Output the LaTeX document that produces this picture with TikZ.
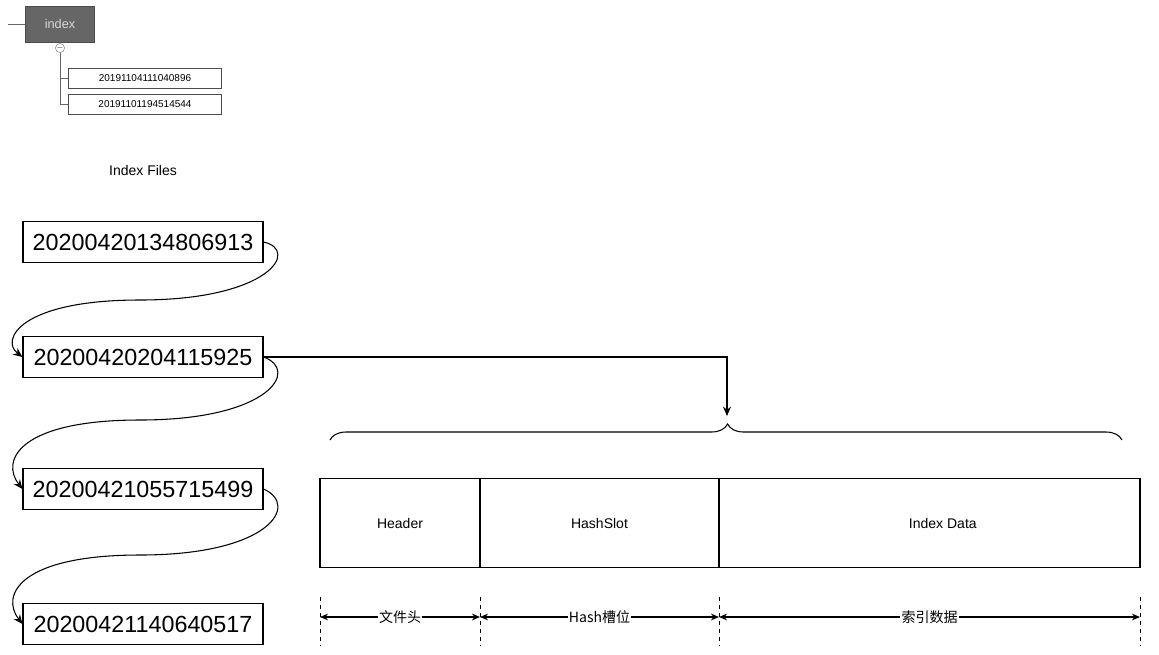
\documentclass[tikz,border=0pt]{standalone}
\usepackage{fontspec}
\setmainfont{Liberation Sans}
\newfontfamily\cjk{Noto Sans CJK SC}
\usetikzlibrary{arrows.meta,decorations.pathreplacing}
\begin{document}
\begin{tikzpicture}[x=0.75pt,y=-0.75pt,
  small/.style={draw=black!70,line width=0.6pt,minimum width=115pt,minimum height=15pt,inner sep=0,font=\fontsize{7.5}{8}\selectfont},
  big/.style={draw,line width=0.8pt,minimum width=180pt,minimum height=31pt,inner sep=0,font=\fontsize{17.5}{19}\selectfont},
  seg/.style={draw,line width=0.8pt,minimum height=67pt,inner sep=0,font=\fontsize{10.5}{12}\selectfont},
  arr/.style={-{Stealth[length=7pt,width=6pt]},line width=0.8pt},
  dim/.style={{Stealth[length=6pt,width=5pt]}-{Stealth[length=6pt,width=5pt]},line width=1pt},
  dsh/.style={dashed,line width=0.7pt},
  lab/.style={fill=white,inner sep=1pt,font=\cjk\fontsize{10.5}{12}\selectfont}]
\useasboundingbox (0,0) rectangle (1159,654);
% top tree
\node[fill=black!60,draw=black!70,minimum width=52pt,minimum height=27pt,text=black!15,font=\fontsize{9.5}{10}\selectfont] (idx) at (60,24) {index};
\coordinate (l0) at (8,24);
\draw[black!60] (l0) -- (idx.west);
\node[circle,draw=black!50,inner sep=0,minimum size=6pt,font=\fontsize{5}{5}\selectfont] (c) at (60,48) {$-$};
\draw[black!60] (idx.south) -- (c);
\node[small] (f1) at (145,78) {20191104111040896};
\node[small] (f2) at (145,104) {20191101194514544};
\draw[black!60] (c.south) |- (f1.west);
\draw[black!60] (c.south) |- (f2.west);
\node[font=\fontsize{10.5}{12}\selectfont] (title) at (143,170) {Index Files};
% big files
\node[big] (b1) at (143,242) {20200420134806913};
\node[big] (b2) at (143,357) {20200420204115925};
\node[big] (b3) at (143,489) {20200421055715499};
\node[big] (b4) at (143,624) {20200421140640517};
\draw[arr] (b1.east) .. controls (300,250) and (270,300) .. (140,300) .. controls (20,300) and (0,340) .. (b2.west);
\draw[arr] (b2.east) .. controls (300,370) and (270,420) .. (140,420) .. controls (20,420) and (0,460) .. (b3.west);
\draw[arr] (b3.east) .. controls (300,505) and (270,555) .. (140,555) .. controls (20,555) and (0,595) .. (b4.west);
% brace
\coordinate (br1) at (330,440);
\coordinate (br2) at (1122,440);
\draw[line width=0.8pt,decorate,decoration={brace,amplitude=12pt,aspect=0.502}] (br1) -- (br2);
\coordinate (btip) at (727,416);
\draw[arr] (b2.east) -| (btip);
% segments
\node[seg,minimum width=120pt] (h) at (400,523) {Header};
\node[seg,minimum width=179.25pt] (hs) at (599.5,523) {HashSlot};
\node[seg,minimum width=315.75pt] (id) at (929.5,523) {\hspace*{20pt}Index Data};
% dimension
\foreach \x/\n in {320/d0,480/d1,719/d2,1140/d3}{
  \coordinate (\n a) at (\x,597); \coordinate (\n b) at (\x,646);
  \coordinate (\n) at (\x,617);
  \draw[dsh] (\n a) -- (\n b);}
\draw[dim] (d0) -- node[lab] {文件头} (d1);
\draw[dim] (d1) -- node[lab] {Hash槽位} (d2);
\draw[dim] (d2) -- node[lab] {索引数据} (d3);
\end{tikzpicture}
\end{document}
